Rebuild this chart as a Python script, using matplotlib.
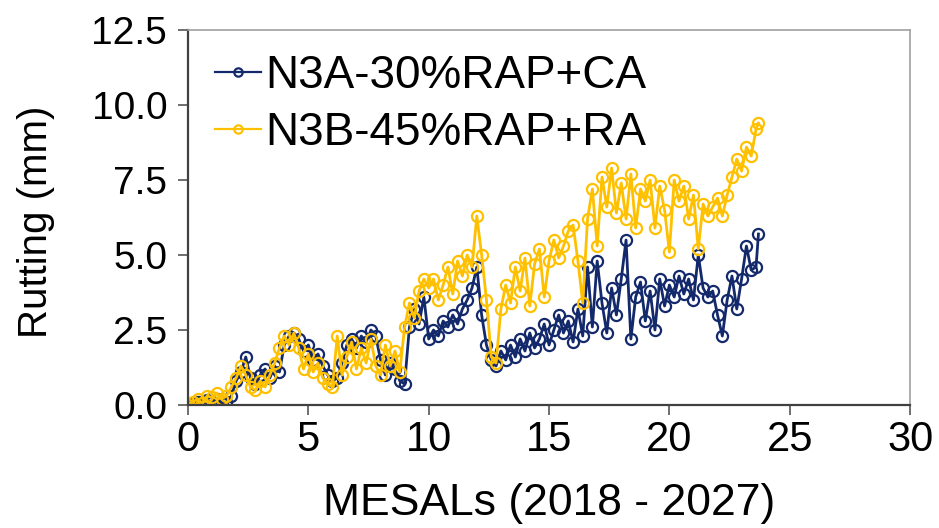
import matplotlib.pyplot as plt

plt.rcParams['font.family'] = ['Liberation Sans', 'DejaVu Sans']

# cumulative traffic (MESALs)
mesals = [0.0, 0.2, 0.4, 0.6, 0.8, 1.0, 1.2, 1.4, 1.6, 1.8,
          2.0, 2.2, 2.4, 2.6, 2.8, 3.0, 3.2, 3.4, 3.6, 3.8,
          4.0, 4.2, 4.4, 4.6, 4.8, 5.0, 5.2, 5.4, 5.6, 5.8,
          6.0, 6.2, 6.4, 6.6, 6.8, 7.0, 7.2, 7.4, 7.6, 7.8,
          8.0, 8.2, 8.4, 8.6, 8.8, 9.0, 9.2, 9.4, 9.6, 9.8,
          10.0, 10.2, 10.4, 10.6, 10.8, 11.0, 11.2, 11.4, 11.6, 11.8,
          12.0, 12.2, 12.4, 12.6, 12.8, 13.0, 13.2, 13.4, 13.6, 13.8,
          14.0, 14.2, 14.4, 14.6, 14.8, 15.0, 15.2, 15.4, 15.6, 15.8,
          16.0, 16.2, 16.4, 16.6, 16.8, 17.0, 17.2, 17.4, 17.6, 17.8,
          18.0, 18.2, 18.4, 18.6, 18.8, 19.0, 19.2, 19.4, 19.6, 19.8,
          20.0, 20.2, 20.4, 20.6, 20.8, 21.0, 21.2, 21.4, 21.6, 21.8,
          22.0, 22.2, 22.4, 22.6, 22.8, 23.0, 23.2, 23.4, 23.6, 23.7]

# rutting (mm)
n3a = [0.0, 0.05, 0.1, 0.0, 0.15, 0.1, 0.2, 0.05, 0.1, 0.3,
       0.8, 1.1, 1.6, 0.9, 0.7, 1.0, 1.2, 0.9, 1.3, 1.1,
       2.0, 2.3, 2.4, 2.2, 1.8, 2.0, 1.5, 1.7, 1.3, 1.0,
       0.8, 0.9, 1.4, 2.0, 2.2, 1.9, 2.3, 2.1, 2.5, 2.3,
       1.5, 1.0, 1.4, 1.2, 0.8, 0.7, 2.6, 3.2, 2.7, 3.6,
       2.2, 2.5, 2.3, 2.8, 2.6, 3.0, 2.7, 3.2, 3.5, 3.9,
       4.6, 3.0, 2.0, 1.5, 1.3, 1.8, 1.5, 2.0, 1.6, 2.2,
       1.8, 2.4, 1.9, 2.2, 2.7, 2.0, 2.5, 3.0, 2.4, 2.8,
       2.1, 3.2, 2.3, 4.6, 2.6, 4.8, 3.4, 2.4, 3.9, 3.0,
       4.2, 5.5, 2.2, 3.6, 4.1, 2.8, 3.8, 2.5, 4.2, 3.3,
       4.0, 3.6, 4.3, 3.7, 4.2, 3.5, 5.0, 3.9, 3.6, 3.8,
       3.0, 2.3, 3.5, 4.3, 3.2, 4.2, 5.3, 4.5, 4.6, 5.7]

n3b = [0.0, 0.1, 0.2, 0.05, 0.3, 0.25, 0.4, 0.2, 0.3, 0.6,
       0.9, 1.3, 1.0, 0.6, 0.5, 0.8, 0.6, 1.0, 1.4, 1.9,
       2.3, 2.0, 2.4, 1.9, 1.2, 1.7, 1.1, 1.4, 0.9, 0.7,
       0.6, 2.3, 1.0, 1.6, 2.1, 1.2, 1.9, 1.4, 2.2, 1.3,
       1.0, 2.0, 1.3, 1.8, 1.1, 2.6, 3.4, 2.9, 3.8, 4.2,
       3.9, 4.2, 3.5, 4.0, 4.6, 3.7, 4.8, 4.3, 5.0, 4.6,
       6.3, 5.0, 3.5, 1.6, 1.4, 3.2, 4.0, 3.4, 4.6, 3.8,
       4.9, 3.3, 4.7, 5.2, 3.6, 4.8, 5.5, 4.9, 5.3, 5.8,
       6.0, 4.8, 3.4, 6.2, 7.2, 5.3, 7.6, 6.6, 7.9, 6.4,
       7.4, 6.2, 7.7, 5.9, 7.2, 6.8, 7.5, 5.9, 7.3, 6.5,
       5.1, 7.5, 6.8, 7.3, 6.2, 7.0, 5.2, 6.7, 6.3, 6.6,
       6.9, 6.3, 7.0, 7.6, 8.2, 7.8, 8.6, 8.3, 9.2, 9.4]

navy = '#13296b'
gold = '#ffc000'

fig = plt.figure(figsize=(9.39, 5.28), dpi=100)
ax = fig.add_axes([0.2002, 0.233, 0.769, 0.710])

ax.plot(mesals, n3a, color=navy, lw=2.0, marker='o', ms=8,
        mfc='none', mec=navy, mew=1.6, label='N3A-30%RAP+CA')
ax.plot(mesals, n3b, color=gold, lw=2.0, marker='o', ms=8,
        mfc='none', mec=gold, mew=1.6, label='N3B-45%RAP+RA')

ax.set_xlim(0, 30)
ax.set_ylim(0, 12.5)
ax.set_xticks([0, 5, 10, 15, 20, 25, 30])
ax.set_yticks([0, 2.5, 5, 7.5, 10, 12.5])
ax.set_yticklabels(['0.0', '2.5', '5.0', '7.5', '10.0', '12.5'])
ax.tick_params(length=7, width=1.2, color='#555555')
ax.tick_params(axis='y', labelsize=28, pad=8)
ax.tick_params(axis='x', labelsize=30, pad=4)

for s in ['left', 'bottom']:
    ax.spines[s].set_color('#404040')
    ax.spines[s].set_linewidth(1.6)
for s in ['top', 'right']:
    ax.spines[s].set_color('#a0a0a0')
    ax.spines[s].set_linewidth(1.2)

fig.text(549 / 939, 1 - 503 / 528, 'MESALs (2018 - 2027)', fontsize=32,
         ha='center', va='center')
fig.text(36 / 939, 1 - 222 / 528, 'Rutting (mm)', fontsize=29,
         rotation=90, ha='center', va='center')

leg = ax.legend(loc='upper left', bbox_to_anchor=(0.037, 0.935), frameon=False,
                fontsize=33, handlelength=1.02, handletextpad=0.08,
                labelspacing=0.28, borderaxespad=0, borderpad=0,
                markerscale=0.75)
for h in leg.legend_handles:
    h.set_linewidth(1.6)

fig.savefig('out.png', dpi=100)
